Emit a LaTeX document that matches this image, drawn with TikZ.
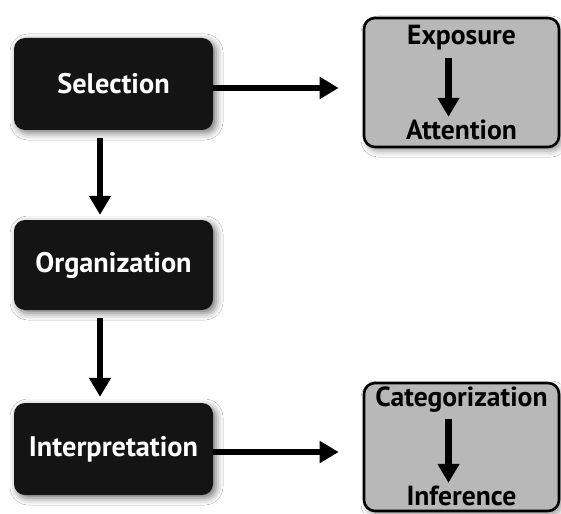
\documentclass[tikz,border=0pt]{standalone}
\usepackage{fontspec}
\setmainfont{PT Sans}
\usetikzlibrary{arrows.meta,shadows.blur}
\definecolor{boxdark}{HTML}{141414}
\definecolor{boxlight}{HTML}{B8B8B8}
\tikzset{
  stage/.style={draw=none, fill=boxdark, rounded corners=11pt,
    minimum width=199pt, text=white, font=\bfseries\fontsize{28.3}{31}\selectfont,
    blur shadow={shadow xshift=3pt, shadow yshift=-3pt, shadow blur radius=7pt, shadow opacity=55}},
  substage/.style={draw=black, line width=2.6pt, fill=boxlight, rounded corners=11pt,
    minimum width=195pt,
    blur shadow={shadow xshift=3pt, shadow yshift=-4pt, shadow blur radius=6pt, shadow opacity=40}},
  sublabel/.style={inner sep=0pt, text=black, font=\bfseries\fontsize{27.6}{30}\selectfont},
  flow/.style={line width=6.5pt, -{Triangle[width=21pt,length=19pt]}},
}
\begin{document}
\begin{tikzpicture}[x=1pt, y=-1pt]
  \useasboundingbox (0,0) rectangle (561,513);
  \fill[white] (0,0) rectangle (561,513);

  % main stages
  \node[stage, minimum height=92pt] (sel)  at (113.5,84)  {Selection};
  \node[stage, minimum height=90pt] (org)  at (113.5,265) {Organization};
  \node[stage, minimum height=92pt] (intp) at (113.5,449) {Interpretation};

  % detail boxes
  \node[substage, minimum height=129pt] (expbox) at (461.5,82.5) {};
  \node[substage, minimum height=128pt] (catbox) at (461.5,447) {};

  \node[sublabel] (expo) at (461.5,38)  {Exposure};
  \node[sublabel] (attn) at (461.5,130) {Attention};
  \node[sublabel] (cat)  at (461.5,400) {Categorization};
  \node[sublabel] (inf)  at (461.5,496) {Inference};

  % stage-to-stage flow
  \draw[flow] ([xshift=-13.5pt,yshift=-8pt]sel.south) -- ([xshift=-13.5pt,yshift=5pt]org.north);
  \draw[flow] ([xshift=-13.5pt,yshift=-8pt]org.south) -- ([xshift=-13.5pt,yshift=6pt]intp.north);

  % stage-to-detail flow
  \draw[flow] ([yshift=-4pt]sel.east) -- ([yshift=-4pt,xshift=-24pt]sel.east -| expbox.west);
  \draw[flow] ([yshift=-3pt]intp.east) -- ([yshift=-3pt,xshift=-24pt]intp.east -| catbox.west);

  % inner steps
  \draw[flow] ([xshift=-13pt,yshift=-7pt]expo.south) -- ([xshift=-13pt,yshift=3pt]attn.north);
  \draw[flow] ([xshift=-13pt,yshift=-6pt]cat.south) -- ([xshift=-13pt,yshift=3pt]inf.north);
\end{tikzpicture}
\end{document}
